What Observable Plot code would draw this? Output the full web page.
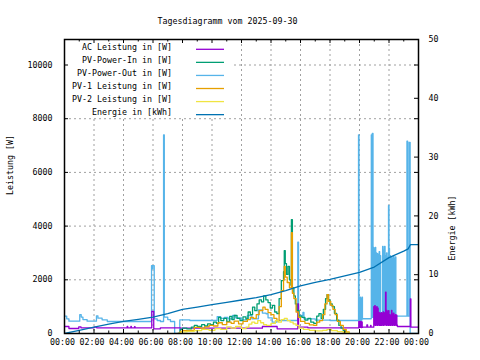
<!DOCTYPE html>
<html><head><meta charset="utf-8">
<script src="https://cdn.jsdelivr.net/npm/d3@7"></script>
<script src="https://cdn.jsdelivr.net/npm/@observablehq/plot@0.6"></script>
<style>body{margin:0;background:#fff} svg{display:block}</style>
</head><body><div id="chart"></div>
<script>
const title = "Tagesdiagramm vom 2025-09-30";
const yLabel = "Leistung [W]";
const y2Label = "Energie [kWh]";
const seriesNames = ["AC Leistung in [W]", "PV-Power-In in [W]", "PV-Power-Out in [W]", "PV-1 Leistung in [W]", "PV-2 Leistung in [W]", "Energie in [kWh]"];
const seriesColors = ["#9400d3", "#009e73", "#56b4e9", "#e69f00", "#f0e442", "#0072b2"];
const xTickHours = [0,2,4,6,8,10,12,14,16,18,20,22,24];
const xTickLabels = ["00:00","02:00","04:00","06:00","08:00","10:00","12:00","14:00","16:00","18:00","20:00","22:00","00:00"];
const xMinorHours = [1,3,5,7,9,11,13,15,17,19,21,23];
const yTicks = [0,2000,4000,6000,8000,10000];
const y2Ticks = [0,10,20,30,40,50];

// AC Leistung [W]
const acT = ["00:00","00:18","00:58","01:07","02:00","02:11","04:15","04:17","04:30","04:32","04:45","04:47","05:55","06:03","06:30","07:52","13:25","14:25","15:49","15:52","16:30","19:57","19:59","20:01","20:03","20:05","20:07","20:09","20:11","20:13","20:30","20:33","20:45","20:47","22:34","23:27","23:29","24:00"];
const acW = [260,186,250,212,235,212,260,212,260,212,255,212,820,175,212,200,260,175,1100,235,210,450,220,440,230,450,220,430,230,235,320,235,300,235,260,1290,235,235];
const acBlockStart = "20:58"; // samples every 2 min
const acBlockW = [1000,320,1040,300,960,320,1000,300,940,330,790,300,760,320,300,780,300,740,320,800,300,760,330,790,1540,300,860,320,800,300,850,320,700,300,680,320,860,300,720,330,760,300,670,320,700,300,680,320];

// PV-Power-In [W]
const inT = ["07:42","07:51","08:00","08:18","08:36","08:48","09:00","09:18","09:30","09:42","09:54","10:06","10:18","10:27","10:36","10:48","11:00","11:12","11:21","11:30","11:42","11:54","12:06","12:18","12:27","12:36","12:45","12:54","13:03","13:12","13:21","13:30","13:39","13:48","13:57","14:06","14:15","14:24","14:33","14:42","14:51","14:54","14:58","15:03","15:09","15:15","15:21","15:23","15:27","15:33","15:39","15:45","15:54","16:06","16:18","16:30","16:42","16:54","17:06","17:15","17:24","17:33","17:42","17:48","17:54","18:00","18:09","18:18","18:27","18:36","18:45","18:54","19:03"];
const inW = [0,150,200,170,240,300,260,330,280,360,330,420,380,600,480,560,450,640,520,670,560,480,620,540,800,700,980,850,1100,1250,1180,1400,1250,1150,950,1050,800,740,1300,1970,2300,3090,2600,2200,2500,2000,1800,4245,1700,1400,1100,860,650,600,500,560,420,380,650,740,560,900,1300,1450,1250,1100,1000,750,500,300,200,100,0];

// PV-Power-Out [W]
const outT = ["00:00","00:09","00:18","01:02","01:08","01:15","01:32","02:10","02:16","02:33","02:54","05:54","05:57","05:59","06:05","06:17","06:30","06:43","06:46","07:00","07:11","07:28","07:49","08:30","10:21","10:35","10:50","11:05","11:24","11:36","12:00","12:24","12:42","13:09","13:25","13:40","13:48","14:05","14:24","15:49","15:52","16:10","16:14","17:00","18:00","19:56","19:58","20:00","20:02","20:04","20:06","20:08","20:10","20:12","20:48","20:50","20:52","20:55","22:28","23:13","23:16","23:22","23:26","24:00"];
const outW = [650,545,460,700,610,520,460,660,570,510,447,2530,2410,2530,545,485,447,7400,607,520,447,0,510,485,630,560,600,545,670,585,510,670,545,880,760,735,585,420,485,3400,670,790,545,500,485,7400,1350,500,1350,480,1300,500,1350,550,7400,600,7450,600,650,7160,650,7120,0,0];
const outBlockStart = "20:56"; // samples every 2 min
const outBlockW = [3210,600,3150,650,3210,600,3000,620,2970,600,2950,620,3050,600,2900,620,600,640,600,3240,620,3100,600,3240,650,2900,600,3000,620,2840,600,4770,3170,600,2900,620,600,2850,600,2800,620,2900,600,2790,620,2850];

// PV-1 Leistung [W]
const pv1T = ["07:42","07:51","08:00","08:30","08:48","09:12","09:30","09:48","10:06","10:24","10:42","11:00","11:18","11:30","11:48","12:06","12:24","12:36","12:48","13:00","13:12","13:27","13:36","13:48","14:00","14:12","14:24","14:33","14:42","14:51","14:54","14:58","15:06","15:15","15:23","15:27","15:33","15:42","15:51","16:00","16:18","16:36","16:54","17:06","17:18","17:30","17:39","17:48","17:54","18:03","18:12","18:21","18:30","18:42","18:54","19:06","19:18"];
const pv1W = [0,80,110,120,230,200,250,300,280,400,330,420,380,460,360,450,520,600,560,700,850,980,900,780,700,560,480,1000,1600,2000,2500,2100,1900,1700,3760,1500,1300,800,600,450,380,320,300,420,480,700,1100,1450,1200,1050,900,700,450,300,150,60,0];

// PV-2 Leistung [W]
const pv2T = ["07:42","07:54","08:18","08:48","09:18","09:48","10:12","10:36","11:00","11:18","11:36","12:00","12:18","12:30","12:42","12:54","13:06","13:18","13:30","13:42","14:00","14:18","14:30","14:42","14:54","15:06","15:18","15:30","15:42","15:54","16:12","16:36","17:00","17:30","17:48","18:06","18:30","18:54","19:18"];
const pv2W = [0,60,80,110,150,120,180,150,250,200,260,180,240,350,420,380,480,400,330,300,380,480,420,520,560,480,420,360,300,200,150,120,100,120,150,110,70,40,0];

// Energie [kWh]
const eT = ["00:00","01:00","02:00","03:00","04:00","05:00","06:00","07:00","08:00","09:00","10:00","11:00","12:00","13:00","14:00","15:00","16:00","17:00","18:00","19:00","20:00","21:00","22:00","23:00","23:18","23:27","24:00"];
const eK = [0,0.55,1.1,1.6,2.05,2.4,2.8,3.4,4.1,4.5,4.9,5.3,5.7,6.1,6.6,7.3,8.1,8.7,9.2,9.8,10.4,11.3,12.9,14.0,14.4,15.1,15.1];

const W_MAX = 10950, E_MAX = 50, eFactor = W_MAX / E_MAX;
const parseT = s => { const [h, m] = s.split(":").map(Number); return h + m / 60; };
const series = (T, V) => T.map((t, i) => ({t: parseT(t), v: V[i]}));
const block = (start, V) => V.map((v, i) => ({t: parseT(start) + i * 2 / 60, v}));
const byT = (a, b) => a.t - b.t;

const acData = [...series(acT, acW), ...block(acBlockStart, acBlockW)].sort(byT);
const outData = [...series(outT, outW), ...block(outBlockStart, outBlockW)].sort(byT);
const inData = series(inT, inW);
const pv1Data = series(pv1T, pv1W);
const pv2Data = series(pv2T, pv2W);
const eData = series(eT, eK);

const FW = 354, FH = 294;
const font = "'DejaVu Sans Mono', monospace";
const lineOpts = (c) => ({x: "t", y: "v", stroke: c, strokeWidth: 1.3, curve: "step-after", clip: true});
const gridStyle = {stroke: "#a0a0a0", strokeWidth: 1, strokeDasharray: "2,3"};

const svg = Plot.plot({
  width: 480, height: 360,
  marginLeft: 64, marginRight: 62, marginTop: 39, marginBottom: 27,
  x: {domain: [0, 24], axis: null},
  y: {domain: [0, W_MAX], axis: null},
  style: {fontFamily: font, fontSize: "8.3px", background: "white", color: "black"},
  marks: [
    Plot.ruleY(yTicks.slice(1), {y: d => d, ...gridStyle}),
    Plot.ruleX(xTickHours.slice(1, -1), {x: d => d, ...gridStyle}),
    Plot.line(outData, lineOpts(seriesColors[2])),
    Plot.line(acData, lineOpts(seriesColors[0])),
    Plot.line(inData, lineOpts(seriesColors[1])),
    Plot.line(pv1Data, lineOpts(seriesColors[3])),
    Plot.line(pv2Data, lineOpts(seriesColors[4])),
    Plot.line(eData, {x: "t", y: d => d.v * eFactor, stroke: seriesColors[5], strokeWidth: 1.3, clip: true}),
    // ticks
    Plot.tickY(yTicks, {y: d => d, insetRight: FW - 4, stroke: "black"}),
    Plot.tickY(yTicks, {y: d => d, insetLeft: FW - 4, stroke: "black"}),
    Plot.tickY(y2Ticks, {y: d => d * eFactor, insetLeft: FW - 4, stroke: "black"}),
    Plot.tickX(xTickHours, {x: d => d, insetTop: FH - 4, stroke: "black"}),
    Plot.tickX(xTickHours, {x: d => d, insetBottom: FH - 4, stroke: "black"}),
    Plot.tickX(xMinorHours, {x: d => d, insetTop: FH - 2.5, stroke: "black"}),
    Plot.tickX(xMinorHours, {x: d => d, insetBottom: FH - 2.5, stroke: "black"}),
    Plot.frame({stroke: "black", strokeWidth: 1.5}),
    // labels
    Plot.text(xTickHours, {x: d => d, text: (d, i) => xTickLabels[i], frameAnchor: "bottom", dy: 11, dx: -2}),
    Plot.text(yTicks, {y: d => d, text: d => String(d), frameAnchor: "left", textAnchor: "end", dx: -12}),
    Plot.text(y2Ticks, {y: d => d * eFactor, text: d => String(d), frameAnchor: "right", textAnchor: "start", dx: 10}),
    Plot.text([title], {text: d => d, frameAnchor: "top", dx: -14, dy: -21}),
    Plot.text([yLabel], {text: d => d, frameAnchor: "left", rotate: -90, dx: -54.5, dy: 8.5}),
    Plot.text([y2Label], {text: d => d, frameAnchor: "right", rotate: -90, dx: 34, dy: 9})
  ]
});

// legend (opaque key box, top-left inside the plot)
const lg = d3.create("svg:g").attr("font-family", font).attr("font-size", "8.3px");
lg.append("rect").attr("x", 65).attr("y", 40).attr("width", 167).attr("height", 76).attr("fill", "white");
seriesNames.forEach((name, i) => {
  const y = 47 + 13.07 * i;
  lg.append("text").attr("x", 172).attr("y", y).attr("dy", "0.32em").attr("text-anchor", "end").attr("fill", "black").text(name);
  lg.append("line").attr("x1", 196).attr("x2", 224).attr("y1", y + 2.3).attr("y2", y + 2.3)
    .attr("stroke", seriesColors[i]).attr("stroke-width", 1.3);
});
const firstTick = svg.querySelector('[aria-label="tick"]');
if (firstTick) svg.insertBefore(lg.node(), firstTick); else svg.appendChild(lg.node());

document.getElementById("chart").appendChild(svg);
</script>
</body></html>
